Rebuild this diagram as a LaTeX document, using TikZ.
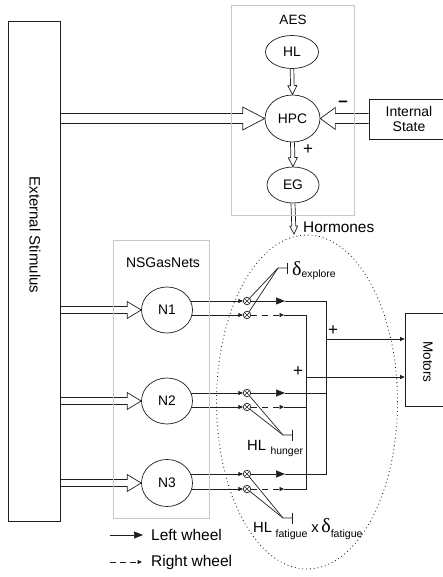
\documentclass[tikz,border=0pt]{standalone}
\usepackage{fontspec}
\setmainfont{Liberation Sans}
\newfontfamily\grk{Liberation Serif}
\usetikzlibrary{shapes.geometric,arrows.meta,calc,backgrounds}
\newcommand\fsz[1]{\fontsize{#1}{#1}\selectfont}
\definecolor{ink}{HTML}{1E1E1E}
\definecolor{boxgray}{HTML}{C8C8C8}
% block (hollow) arrow: #1 from, #2 to, #3 shaft half width, #4 head half width, #5 head length
\newcommand\blkarrow[5]{%
  \coordinate (bah) at ($(#2)!#5!(#1)$);
  \draw[barrow] ($(#1)!#3!90:(#2)$) -- ($(bah)!#3!-90:(#1)$) -- ($(bah)!#4!-90:(#1)$) -- (#2)
     -- ($(bah)!#4!90:(#1)$) -- ($(bah)!#3!90:(#1)$) -- ($(#1)!#3!-90:(#2)$);
}
\begin{document}
\begin{tikzpicture}[x=1pt,y=-1pt,
  ln/.style={draw=ink,line width=0.7pt},
  barrow/.style={draw=ink,line width=0.7pt,line join=miter},
  ell/.style={ellipse,draw=ink,line width=0.7pt,fill=white,inner sep=0pt,text=black},
  gbox/.style={draw=boxgray,line width=0.9pt},
  dbox/.style={draw=ink,line width=0.7pt},
  otim/.style={circle,draw=ink,line width=0.7pt,fill=white,minimum size=7.5pt,inner sep=0pt,
    path picture={\draw[ink,line width=0.6pt] (path picture bounding box.north west)--(path picture bounding box.south east)
      (path picture bounding box.north east)--(path picture bounding box.south west);}},
  smtip/.tip={Triangle[length=4.5pt,width=4pt]},
  bigtip/.tip={Triangle[length=9pt,width=7pt]},
  lbl/.style={inner sep=0pt,text=black}
]
\useasboundingbox (0,0) rectangle (443,577);

% boxes
\node[dbox,minimum width=52pt,minimum height=500pt] (ext) at (34,271) {};
\node[lbl,rotate=-90,font=\fsz{15}] (extlbl) at (35,235) {External Stimulus};
\node[gbox,minimum width=123pt,minimum height=210pt] (aes) at (293,110) {};
\node[lbl,font=\fsz{13.5}] (aeslbl) at (293,20) {AES};
\node[gbox,minimum width=96pt,minimum height=278pt] (ns) at (161,379) {};
\node[lbl,font=\fsz{14}] (nslbl) at (163,263) {NSGasNets};
\node[dbox,minimum width=80pt,minimum height=40pt,align=center,font=\fontsize{14}{15}\selectfont,text=black] (ist) at (409,119) {Internal\\State};
\node[dbox,minimum width=44pt,minimum height=93pt] (mot) at (427,359.5) {};
\node[lbl,rotate=-90,font=\fsz{13.5}] (motlbl) at (428,362) {Motors};

% ellipses
\node[ell,minimum width=53pt,minimum height=33pt,font=\fsz{13.8}] (HL) at (292,52) {HL};
\node[ell,minimum width=55pt,minimum height=47pt,font=\fsz{13.8}] (HPC) at (292.5,118.5) {HPC};
\node[ell,minimum width=52pt,minimum height=36pt,font=\fsz{13.8}] (EG) at (293,185) {EG};
\node[ell,minimum width=51pt,minimum height=46pt,font=\fsz{13.8}] (N1) at (167,310) {N1};
\node[ell,minimum width=51pt,minimum height=46pt,font=\fsz{13.8}] (N2) at (167,401) {N2};
\node[ell,minimum width=51pt,minimum height=47pt,font=\fsz{13.8}] (N3) at (167,483) {N3};

% hormone zone
\node[ellipse,draw=ink,line width=0.9pt,dash pattern=on 0.8pt off 3pt,minimum width=181pt,minimum height=334pt,inner sep=0pt] (zone) at (307,402) {};
\node[lbl,anchor=west,font=\fsz{15.4}] (horm) at (303,227) {Hormones};
\coordinate (hormtip) at (294,234);

% multipliers
\node[otim] (o1a) at (247,301) {};
\node[otim] (o1b) at (247,315) {};
\node[otim] (o2a) at (247,393) {};
\node[otim] (o2b) at (247,407) {};
\node[otim] (o3a) at (247,474) {};
\node[otim] (o3b) at (247,489) {};

% signs
\node[lbl,font=\fsz{17}] (pEG) at (308,150) {+};
\node[lbl,font=\bfseries\fsz{17}] (mIS) at (343,104) {–};
\node[lbl,font=\fsz{17}] (p1) at (333,331) {+};
\node[lbl,font=\fsz{17}] (p2) at (298,372) {+};

% modulator labels
\node[lbl,anchor=base west] (dexp) at (292,275) {{\grk\fsz{20}δ}\raisebox{-2.5pt}{\fsz{10.4}explore}};
\node[lbl,anchor=base west] (hlh) at (247,450) {\fsz{14.8}HL\hspace{4.5pt}\raisebox{-4pt}{\fsz{10.4}hunger}};
\node[lbl,anchor=base west] (hlf) at (253,532) {\fsz{14.8}HL\hspace{3.5pt}\raisebox{-5pt}{\fsz{10.6}fatigue}\hspace{4pt}x\hspace{2.5pt}{\grk\fsz{20}δ}\raisebox{-5pt}{\fsz{10.6}fatigue}};

% coordinates
\coordinate (t1) at (285,301); \coordinate (t2) at (285,393); \coordinate (t3) at (285,474);
\coordinate (d1) at (284,315); \coordinate (d2) at (284,407); \coordinate (d3) at (284,489);
\coordinate (sb1) at (326,301); \coordinate (sb3) at (326,474);
\coordinate (db1) at (306,315); \coordinate (db3) at (306,489);
\coordinate (j1) at (326,339); \coordinate (j2) at (306,377);
\coordinate (c1) at (278,268); \coordinate (bar1) at (288,268);
\coordinate (c2) at (283,435); \coordinate (bar2) at (293,435);
\coordinate (c3) at (283,518); \coordinate (bar3) at (293,518);
\coordinate (e0) at (ext.east |- HPC.west);
\coordinate (e1) at (ext.east |- N1.west);
\coordinate (e2) at (ext.east |- N2.west);
\coordinate (e3) at (ext.east |- N3.west);
\coordinate (i0) at (ist.west |- HPC.east);

% legend
\coordinate (lg1s) at (110,535); \coordinate (lg1e) at (143,535);
\coordinate (lg2s) at (110,562); \coordinate (lg2e) at (142,562);
\node[lbl,anchor=west,font=\fsz{15.5}] (lgl) at (151,535) {Left wheel};
\node[lbl,anchor=west,font=\fsz{15.5}] (lgr) at (151,562) {Right wheel};

\begin{scope}[on background layer]
  % block arrows
  \blkarrow{e0}{HPC.west}{5pt}{11.5pt}{22pt}
  \blkarrow{i0}{HPC.east}{5pt}{11pt}{15pt}
  \blkarrow{HL.south}{HPC.north}{1.8pt}{4.5pt}{9pt}
  \blkarrow{HPC.south}{EG.north}{2pt}{4.5pt}{9pt}
  \blkarrow{EG.south}{hormtip}{2pt}{4pt}{8pt}
  \blkarrow{e1}{N1.west}{3.5pt}{8.5pt}{14pt}
  \blkarrow{e2}{N2.west}{3.5pt}{8.5pt}{14pt}
  \blkarrow{e3}{N3.west}{3.5pt}{8.5pt}{14pt}
  % neuron outputs
  \foreach \n/\a/\b in {N1/o1a/o1b,N2/o2a/o2b,N3/o3a/o3b}{
    \draw[ln,-smtip] (\n.center |- \a) -- (\a);
    \draw[ln,-smtip] (\n.center |- \b) -- (\b);
  }
  % modulators
  \draw[ln,-{Bar[width=11pt]}] (o1a.center) -- (c1) -- (bar1);
  \draw[ln] (o1b.center) -- (c1);
  \draw[ln,-{Bar[width=11pt]}] (o2a.center) -- (c2) -- (bar2);
  \draw[ln] (o2b.center) -- (c2);
  \draw[ln,-{Bar[width=11pt]}] (o3a.center) -- (c3) -- (bar3);
  \draw[ln] (o3b.center) -- (c3);
\end{scope}

% wheel signals
\foreach \o/\t in {o1a/t1,o2a/t2,o3a/t3}{\draw[ln,-bigtip] (\o) -- (\t);}
\foreach \o/\t in {o1b/d1,o2b/d2,o3b/d3}{\draw[ln,dash pattern=on 6pt off 5pt,-smtip] (\o) -- (\t);}
\draw[ln] (t1) -- (sb1) -- (sb3) -- (t3);
\draw[ln] (t2) -- (t2 -| sb1);
\draw[ln] (d1) -- (db1) -- (db3) -- (d3);
\draw[ln] (d2) -- (d2 -| db1);
\draw[ln,-smtip] (j1) -- (mot.west |- j1);
\draw[ln,-smtip] (j2) -- (mot.west |- j2);

% legend arrows
\draw[ln,-bigtip] (lg1s) -- (lg1e);
\draw[ln,dash pattern=on 6pt off 4pt,-smtip] (lg2s) -- (lg2e);
\end{tikzpicture}
\end{document}
